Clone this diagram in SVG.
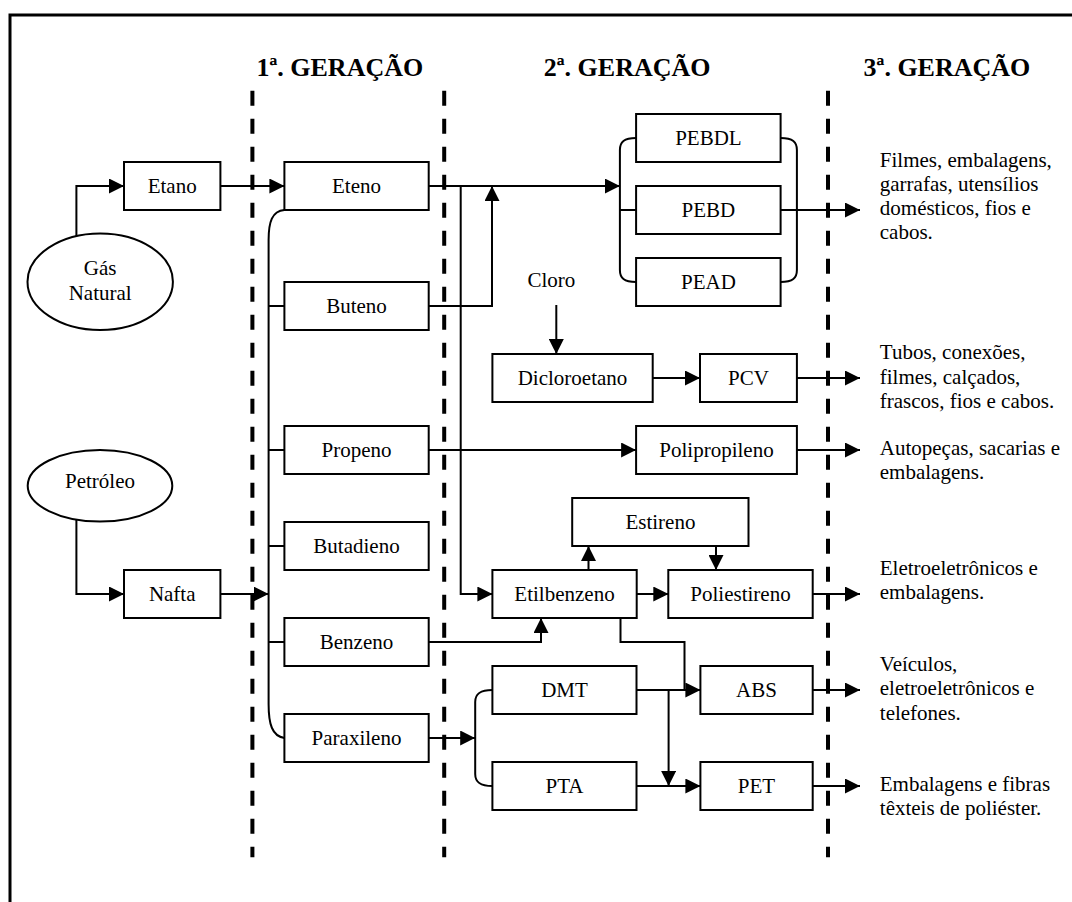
<svg xmlns="http://www.w3.org/2000/svg" width="1072" height="902" viewBox="0 0 1072 902" font-family="Liberation Serif, Times New Roman, DejaVu Serif, serif">
  <style>
    .box { fill: #fff; stroke: #000; stroke-width: 2; }
    .oval { fill: #fff; stroke: #000; stroke-width: 2; }
    .lbl { font-size: 21px; fill: #000; text-anchor: middle; }
    .out { font-size: 21px; fill: #000; }
    .gen { font-size: 26px; font-weight: bold; fill: #000; }
    .wire { fill: none; stroke: #000; stroke-width: 2; }
    .arr { fill: none; stroke: #000; stroke-width: 2; marker-end: url(#head); }
    .sep { stroke: #000; stroke-width: 4; stroke-dasharray: 15 13; }
  </style>
  <defs>
    <marker id="head" markerUnits="userSpaceOnUse" markerWidth="15" markerHeight="15" refX="15" refY="7.5" orient="auto">
      <path d="M0,0 L15,7.5 L0,15 Z" fill="#000"/>
    </marker>
  </defs>

  <rect width="1072" height="902" fill="#fff"/>

  <!-- outer frame: top and left edges only -->
  <path d="M10,902 L10,15 L1072,15" fill="none" stroke="#000" stroke-width="3"/>

  <!-- generation headings and separators -->
  <g id="headings">
    <text class="gen" x="256.5" y="76">1ª. GERAÇÃO</text>
    <text class="gen" x="543.8" y="76">2ª. GERAÇÃO</text>
    <text class="gen" x="863.6" y="76">3ª. GERAÇÃO</text>
    <line class="sep" x1="252.4" y1="90.7" x2="252.4" y2="857.3"/>
    <line class="sep" x1="444.2" y1="90.7" x2="444.2" y2="857.3"/>
    <line class="sep" x1="828" y1="90.7" x2="828" y2="857.3"/>
  </g>

  <!-- connectors -->
  <g id="connectors">
    <!-- raw materials -->
    <path class="arr" d="M76.4,236 L76.4,186 L124,186"/>
    <path class="arr" d="M76.4,519.6 L76.4,594 L124,594"/>
    <path class="arr" d="M220.4,186 L284.4,186"/>
    <path class="arr" d="M220.4,594 L268.6,594"/>
    <!-- first generation spine -->
    <path class="wire" d="M284.4,210 C272,211 268.6,222 268.6,240 L268.6,704 C268.6,724 272,736 284.4,738"/>
    <path class="wire" d="M268.6,306 L284.4,306 M268.6,450 L284.4,450 M268.6,546 L284.4,546 M268.6,642 L284.4,642"/>
    <!-- eteno / buteno to polyethylenes -->
    <path class="arr" d="M428.7,186 L619.9,186"/>
    <path class="arr" d="M428.7,306 L492,306 L492,186"/>
    <path class="arr" d="M460.7,186 L460.7,594 L492.4,594"/>
    <!-- polyethylene bracket -->
    <path class="wire" d="M636.1,138 C624,138 619.9,142 619.9,150 L619.9,270 C619.9,278 624,282 636.1,282"/>
    <path class="wire" d="M619.9,210 L636.1,210"/>
    <path class="wire" d="M780.6,138 C792.8,138 796.9,142 796.9,150 L796.9,270 C796.9,278 792.8,282 780.6,282"/>
    <path class="arr" d="M780.6,210 L860,210"/>
    <!-- chlorine route -->
    <path class="arr" d="M556.3,305 L556.3,354"/>
    <path class="arr" d="M652.7,378 L700,378"/>
    <path class="arr" d="M796.9,378 L860,378"/>
    <!-- propene -->
    <path class="arr" d="M428.7,450 L636.1,450"/>
    <path class="arr" d="M796.9,450 L860,450"/>
    <!-- styrene chain -->
    <path class="arr" d="M428.7,642 L541,642 L541,618"/>
    <path class="arr" d="M588.5,570 L588.5,546"/>
    <path class="arr" d="M716,546 L716,570"/>
    <path class="arr" d="M636.7,594 L668.3,594"/>
    <path class="arr" d="M812.7,594 L860,594"/>
    <path class="wire" d="M620.5,618 L620.5,642 L684.5,642 L684.5,690"/>
    <!-- paraxylene branch -->
    <path class="arr" d="M428.7,738 L475.2,738"/>
    <path class="wire" d="M492.4,690 C480,690 475.2,694 475.2,702 L475.2,774 C475.2,782 480,786 492.4,786"/>
    <path class="arr" d="M636.5,690 L700.4,690"/>
    <path class="arr" d="M668.6,690 L668.6,786"/>
    <path class="arr" d="M636.5,786 L700.4,786"/>
    <path class="arr" d="M812.7,690 L860,690"/>
    <path class="arr" d="M812.7,786 L860,786"/>
  </g>

  <!-- raw materials -->
  <g id="gas-natural">
    <ellipse class="oval" cx="100.2" cy="281.7" rx="72.7" ry="48.3"/>
    <text class="lbl" x="100.2" y="275.3">Gás</text>
    <text class="lbl" x="100.2" y="300">Natural</text>
  </g>
  <g id="petroleo">
    <ellipse class="oval" cx="100" cy="485.8" rx="72.3" ry="35.8"/>
    <text class="lbl" x="100" y="488">Petróleo</text>
  </g>
  <g id="etano"><rect class="box" x="124" y="162" width="96.4" height="48"/><text class="lbl" x="172.2" y="193">Etano</text></g>
  <g id="nafta"><rect class="box" x="124" y="570" width="96.4" height="48"/><text class="lbl" x="172.2" y="601">Nafta</text></g>

  <!-- first generation -->
  <g id="eteno"><rect class="box" x="284.4" y="162" width="144.3" height="48"/><text class="lbl" x="356.5" y="193">Eteno</text></g>
  <g id="buteno"><rect class="box" x="284.4" y="282" width="144.3" height="48"/><text class="lbl" x="356.5" y="313">Buteno</text></g>
  <g id="propeno"><rect class="box" x="284.4" y="426" width="144.3" height="48"/><text class="lbl" x="356.5" y="457">Propeno</text></g>
  <g id="butadieno"><rect class="box" x="284.4" y="522" width="144.3" height="48"/><text class="lbl" x="356.5" y="553">Butadieno</text></g>
  <g id="benzeno"><rect class="box" x="284.4" y="618" width="144.3" height="48"/><text class="lbl" x="356.5" y="649">Benzeno</text></g>
  <g id="paraxileno"><rect class="box" x="284.4" y="714" width="144.3" height="48"/><text class="lbl" x="356.5" y="745">Paraxileno</text></g>

  <!-- second generation -->
  <g id="pebdl"><rect class="box" x="636.1" y="114" width="144.5" height="48"/><text class="lbl" x="708.4" y="145">PEBDL</text></g>
  <g id="pebd"><rect class="box" x="636.1" y="186" width="144.5" height="48"/><text class="lbl" x="708.4" y="217">PEBD</text></g>
  <g id="pead"><rect class="box" x="636.1" y="258" width="144.5" height="48"/><text class="lbl" x="708.4" y="289">PEAD</text></g>
  <g id="cloro"><text class="lbl" x="551.3" y="286.7">Cloro</text></g>
  <g id="dicloroetano"><rect class="box" x="492.4" y="354" width="160.3" height="48"/><text class="lbl" x="572.5" y="385">Dicloroetano</text></g>
  <g id="pcv"><rect class="box" x="700" y="354" width="96.9" height="48"/><text class="lbl" x="748.5" y="385">PCV</text></g>
  <g id="polipropileno"><rect class="box" x="636.1" y="426" width="160.8" height="48"/><text class="lbl" x="716.5" y="457">Polipropileno</text></g>
  <g id="estireno"><rect class="box" x="572.2" y="498" width="176.3" height="48"/><text class="lbl" x="660.4" y="529">Estireno</text></g>
  <g id="etilbenzeno"><rect class="box" x="492.4" y="570" width="144.3" height="48"/><text class="lbl" x="564.5" y="601">Etilbenzeno</text></g>
  <g id="poliestireno"><rect class="box" x="668.3" y="570" width="144.4" height="48"/><text class="lbl" x="740.5" y="601">Poliestireno</text></g>
  <g id="dmt"><rect class="box" x="492.4" y="666" width="144.1" height="48"/><text class="lbl" x="564.5" y="697">DMT</text></g>
  <g id="abs"><rect class="box" x="700.4" y="666" width="112.3" height="48"/><text class="lbl" x="756.5" y="697">ABS</text></g>
  <g id="pta"><rect class="box" x="492.4" y="762" width="144.1" height="48"/><text class="lbl" x="564.5" y="793">PTA</text></g>
  <g id="pet"><rect class="box" x="700.4" y="762" width="112.3" height="48"/><text class="lbl" x="756.5" y="793">PET</text></g>

  <!-- third generation uses -->
  <g id="uso-pe">
    <text class="out" x="879.8" y="166.7">Filmes, embalagens,</text>
    <text class="out" x="879.8" y="190.9">garrafas, utensílios</text>
    <text class="out" x="879.8" y="215.1">domésticos, fios e</text>
    <text class="out" x="879.8" y="239.3">cabos.</text>
  </g>
  <g id="uso-pcv">
    <text class="out" x="879.8" y="359">Tubos, conexões,</text>
    <text class="out" x="879.8" y="383.5">filmes, calçados,</text>
    <text class="out" x="879.8" y="408">frascos, fios e cabos.</text>
  </g>
  <g id="uso-pp">
    <text class="out" x="879.8" y="455">Autopeças, sacarias e</text>
    <text class="out" x="879.8" y="479.3">embalagens.</text>
  </g>
  <g id="uso-ps">
    <text class="out" x="879.8" y="575">Eletroeletrônicos e</text>
    <text class="out" x="879.8" y="599.3">embalagens.</text>
  </g>
  <g id="uso-abs">
    <text class="out" x="879.8" y="670.7">Veículos,</text>
    <text class="out" x="879.8" y="695.3">eletroeletrônicos e</text>
    <text class="out" x="879.8" y="720">telefones.</text>
  </g>
  <g id="uso-pet">
    <text class="out" x="879.8" y="790.7">Embalagens e fibras</text>
    <text class="out" x="879.8" y="815">têxteis de poliéster.</text>
  </g>
</svg>
